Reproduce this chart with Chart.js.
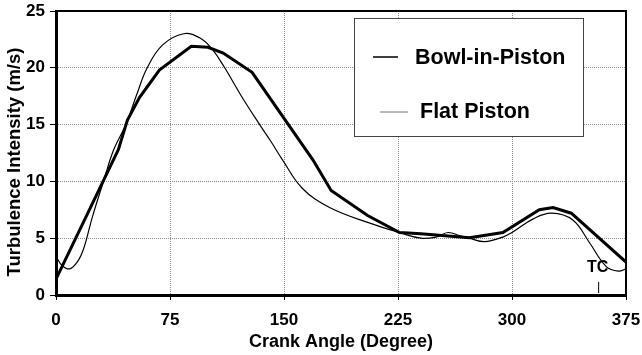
<!DOCTYPE html>
<html>
<head>
<meta charset="utf-8">
<script src="https://cdn.jsdelivr.net/npm/chart.js@4/dist/chart.umd.min.js"></script>
<style>
  html,body{margin:0;padding:0;background:#fff;}
  #wrap{width:642px;height:355px;position:relative;}
</style>
</head>
<body>
<div id="wrap"><canvas id="c"></canvas></div>
<script>
// ---- data ----
const bowlAngles = [0, 41, 47, 55, 68, 89, 100, 110, 129, 169, 181, 205, 226, 240, 272, 294, 318, 327, 339, 375];
const bowlValues = [1.4, 12.8, 15.4, 17.4, 19.8, 21.9, 21.8, 21.3, 19.6, 11.9, 9.2, 7.0, 5.5, 5.4, 5.05, 5.5, 7.5, 7.7, 7.2, 2.9];

const flatAngles = [0, 4, 9, 14, 18, 24, 31, 38, 46, 53, 60, 70, 84, 95, 103, 111, 122, 134, 141, 149, 162, 180, 207, 226, 240, 250, 258, 266, 272, 282, 294, 300, 314, 326, 340, 351, 362, 370, 375];
const flatValues = [3.4, 2.6, 2.3, 2.9, 4.0, 6.9, 9.9, 12.8, 15.0, 17.6, 20.0, 22.0, 23.0, 22.6, 21.6, 20.0, 17.5, 15.0, 13.6, 11.9, 9.4, 7.7, 6.3, 5.5, 5.0, 5.1, 5.5, 5.2, 5.0, 4.7, 5.1, 5.5, 6.7, 7.2, 6.6, 4.6, 2.5, 2.1, 2.3];

const seriesNames = ['Bowl-in-Piston', 'Flat Piston'];
const xTicks = [0, 75, 150, 225, 300, 375];
const yTicks = [0, 5, 10, 15, 20, 25];
const xTitle = 'Crank Angle (Degree)';
const yTitle = 'Turbulence Intensity (m/s)';
const tcLabel = 'TC';
const tcAngle = 357;

const FONT = '"Liberation Sans", Arial, sans-serif';

const toXY = (xs, ys) => xs.map((x, i) => ({x: x, y: ys[i]}));

const framePlugin = {
  id: 'frame',
  afterDatasetsDraw(chart) {
    const {ctx, chartArea: a, scales} = chart;
    ctx.save();
    // top and right borders
    ctx.strokeStyle = '#000';
    ctx.lineWidth = 2;
    ctx.beginPath();
    ctx.moveTo(a.left, a.top);
    ctx.lineTo(a.right, a.top);
    ctx.lineTo(a.right, a.bottom);
    ctx.stroke();

    // y axis title
    ctx.save();
    ctx.translate(15, (a.top + a.bottom) / 2 + 9);
    ctx.rotate(-Math.PI / 2);
    ctx.fillStyle = '#000';
    ctx.font = 'bold 18.5px ' + FONT;
    ctx.textAlign = 'center';
    ctx.textBaseline = 'middle';
    ctx.fillText(yTitle, 0, 0);
    ctx.restore();

    // TC marker
    const tx = scales.x.getPixelForValue(tcAngle);
    ctx.strokeStyle = '#000';
    ctx.lineWidth = 1;
    ctx.beginPath();
    ctx.moveTo(tx, a.bottom - 13);
    ctx.lineTo(tx, a.bottom - 2);
    ctx.stroke();
    ctx.fillStyle = '#000';
    ctx.font = 'bold 16px ' + FONT;
    ctx.textAlign = 'center';
    ctx.textBaseline = 'middle';
    ctx.fillText(tcLabel, tx - 1, a.bottom - 27);

    // legend box
    const bx = a.left + 298, by = a.top + 7, bw = 229, bh = 118;
    ctx.fillStyle = '#fff';
    ctx.fillRect(bx, by, bw, bh);
    ctx.strokeStyle = '#444';
    ctx.lineWidth = 1;
    ctx.strokeRect(bx + 0.5, by + 0.5, bw, bh);

    ctx.font = 'bold 21.5px ' + FONT;
    ctx.textAlign = 'left';
    ctx.textBaseline = 'middle';
    // entry 1
    ctx.strokeStyle = '#000';
    ctx.lineWidth = 1.5;
    ctx.beginPath();
    ctx.moveTo(bx + 19, by + 39);
    ctx.lineTo(bx + 44, by + 39);
    ctx.stroke();
    ctx.fillStyle = '#000';
    ctx.fillText(seriesNames[0], bx + 61, by + 40);
    // entry 2
    ctx.strokeStyle = '#777';
    ctx.lineWidth = 1;
    ctx.beginPath();
    ctx.moveTo(bx + 26, by + 94);
    ctx.lineTo(bx + 54, by + 94);
    ctx.stroke();
    ctx.fillText(seriesNames[1], bx + 66, by + 94);
    ctx.restore();
  }
};

new Chart(document.getElementById('c'), {
  type: 'line',
  data: {
    datasets: [
      {
        label: seriesNames[0],
        data: toXY(bowlAngles, bowlValues),
        borderColor: '#000',
        borderWidth: 3,
        pointRadius: 0,
        tension: 0,
        fill: false
      },
      {
        label: seriesNames[1],
        data: toXY(flatAngles, flatValues),
        borderColor: '#000',
        borderWidth: 1.2,
        pointRadius: 0,
        tension: 0.4,
        fill: false
      }
    ]
  },
  options: {
    responsive: true,
    maintainAspectRatio: false,
    animation: false,
    layout: {padding: {top: 11, right: 16, left: 0, bottom: 0}},
    plugins: {legend: {display: false}, tooltip: {enabled: false}},
    scales: {
      x: {
        type: 'linear',
        min: 0, max: 375,
        afterBuildTicks: (s) => { s.ticks = xTicks.map(v => ({value: v})); },
        afterFit: (s) => { s.height = 60; s.paddingLeft = 0; s.paddingRight = 0; },
        ticks: {
          color: '#000',
          font: {family: FONT, size: 17, weight: 'bold'},
          padding: 10,
          maxRotation: 0
        },
        grid: {color: '#888', lineWidth: 1, tickLength: 5, tickColor: '#000', drawOnChartArea: true},
        border: {display: true, color: '#000', width: 3, dash: [1, 1]},
        title: {
          display: true, text: xTitle, color: '#000',
          font: {family: FONT, size: 18, weight: 'bold'},
          padding: {top: 0, bottom: 2}
        }
      },
      y: {
        min: 0, max: 25,
        afterBuildTicks: (s) => { s.ticks = yTicks.map(v => ({value: v})); },
        afterFit: (s) => { s.width = 56; s.paddingTop = 0; s.paddingBottom = 0; },
        ticks: {
          color: '#000',
          font: {family: FONT, size: 17, weight: 'bold'},
          padding: 5
        },
        grid: {color: '#888', lineWidth: 1, tickLength: 6, tickColor: '#000'},
        border: {display: true, color: '#000', width: 3, dash: [1, 1]},
        title: {display: false, text: yTitle}
      }
    }
  },
  plugins: [framePlugin]
});
</script>
</body>
</html>
